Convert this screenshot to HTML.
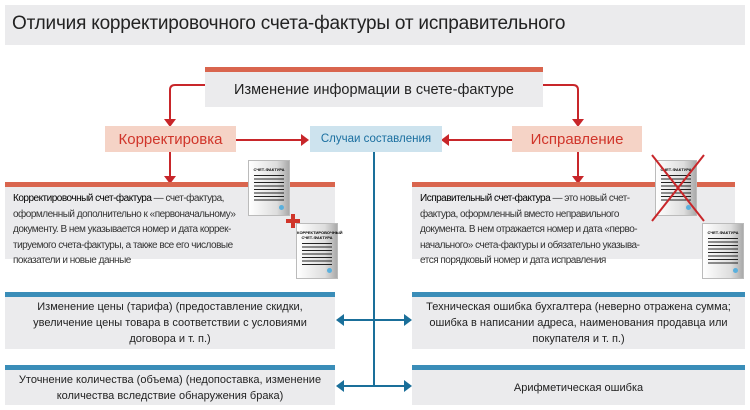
<!DOCTYPE html>
<html><head><meta charset="utf-8"><style>
body{margin:0;width:750px;height:410px;background:#fff;position:relative;overflow:hidden;font-family:"Liberation Sans","Noto Sans CJK SC",sans-serif;}
.a{position:absolute;box-sizing:border-box}
.g{background:#ebebed}
.t{display:flex;align-items:center;justify-content:center;text-align:center;color:#222}
.doc{position:absolute;width:42px;height:56px;background:linear-gradient(90deg,#fff,#ddd 70%,#aaa);border:1px solid #bbb;box-sizing:border-box}
.doc .h{font-size:4px;text-align:center;font-weight:bold;margin-top:6px;line-height:5px}
.doc .l{margin:3px 5px 0;height:28px;background:repeating-linear-gradient(#222 0 1px,transparent 1px 3.5px)}
.doc .d{position:absolute;right:5px;bottom:5px;width:5px;height:5px;border-radius:50%;background:#5ab0dd}
.desc{font-size:10px;letter-spacing:-0.5px;line-height:15.5px;padding:4px 8px;color:#333}
</style></head><body>
<div class="a g" style="left:5px;top:5px;width:740px;height:40px;font-size:19px;padding:8px 7px;color:#222;letter-spacing:-0.2px">Отличия корректировочного счета-фактуры от исправительного</div>

<div class="a g t" style="left:205px;top:67px;width:338px;height:40px;border-top:5px solid #d9654e;font-size:14.5px">Изменение информации в счете-фактуре</div>

<svg class="a" style="left:0;top:0" width="750" height="410">
<g stroke="#c8262a" stroke-width="2" fill="none">
<path d="M205 85 H175 Q170 85 170 90 V120"/>
<path d="M543 85 H573 Q578 85 578 90 V120"/>
<path d="M236 140 H302"/><path d="M512 140 H448"/>
<path d="M170 152 V178"/><path d="M578 152 V178"/>
</g>
<g fill="#c8262a">
<path d="M164 119 H176 L170 127Z"/><path d="M572 119 H584 L578 127Z"/>
<path d="M301 134 V146 L309 140Z"/><path d="M449 134 V146 L441 140Z"/>
<path d="M164 176 H176 L170 184Z"/><path d="M572 176 H584 L578 184Z"/>
</g>
<g stroke="#1a6f9a" stroke-width="2" fill="none">
<path d="M374 152 V385"/>
<path d="M342 320 H405"/><path d="M342 386 H405"/>
</g>
<g fill="#1a6f9a">
<path d="M344 314 V326 L336 320Z"/><path d="M404 314 V326 L412 320Z"/>
<path d="M344 380 V392 L336 386Z"/><path d="M404 380 V392 L412 386Z"/>
</g>
</svg>

<div class="a t" style="left:105px;top:126px;width:131px;height:26px;background:#f5d3c6;color:#d0352a;font-size:15px">Корректировка</div>
<div class="a t" style="left:310px;top:126px;width:132px;height:26px;background:#cde3ee;color:#1a6fa0;font-size:11.5px">Случаи составления</div>
<div class="a t" style="left:512px;top:126px;width:130px;height:26px;background:#f5d3c6;color:#d0352a;font-size:15px">Исправление</div>

<div class="a g desc" style="left:5px;top:182px;width:330px;height:77px;border-top:5px solid #d9654e"><span style="color:#000">Корректировочный счет-фактура</span> — счет-фактура,<br>оформленный дополнительно к «первоначальному»<br>документу. В нем указывается номер и дата коррек-<br>тируемого счета-фактуры, а также все его числовые<br>показатели и новые данные</div>
<div class="a g desc" style="left:412px;top:182px;width:323px;height:77px;border-top:5px solid #d9654e"><span style="color:#000">Исправительный счет-фактура</span> — это новый счет-<br>фактура, оформленный вместо неправильного<br>документа. В нем отражается номер и дата «перво-<br>начального» счета-фактуры и обязательно указыва-<br>ется порядковый номер и дата исправления</div>

<div class="doc" style="left:248px;top:160px"><div class="h">СЧЕТ-ФАКТУРА</div><div class="l"></div><div class="d"></div></div>
<div class="a" style="left:286px;top:219px;width:14px;height:4px;background:#d0352a"></div>
<div class="a" style="left:291px;top:214px;width:4px;height:14px;background:#d0352a"></div>
<div class="doc" style="left:296px;top:223px"><div class="h">КОРРЕКТИРОВОЧНЫЙ СЧЕТ-ФАКТУРА</div><div class="l" style="height:24px"></div><div class="d"></div></div>
<div class="doc" style="left:655px;top:160px"><div class="h">СЧЕТ-ФАКТУРА</div><div class="l"></div><div class="d"></div></div>
<svg class="a" style="left:648px;top:153px" width="60" height="70"><g stroke="#c8262a" stroke-width="2"><path d="M4 2 L56 68"/><path d="M56 2 L4 68"/></g></svg>
<div class="doc" style="left:702px;top:223px"><div class="h">СЧЕТ-ФАКТУРА</div><div class="l"></div><div class="d"></div></div>

<div class="a g t" style="left:5px;top:292px;width:330px;height:57px;border-top:5px solid #3a8db8;font-size:11px;line-height:16px">Изменение цены (тарифа) (предоставление скидки,<br>увеличение цены товара в соответствии с условиями<br>договора и т. п.)</div>
<div class="a g t" style="left:412px;top:292px;width:333px;height:57px;border-top:5px solid #3a8db8;font-size:11px;line-height:16px">Техническая ошибка бухгалтера (неверно отражена сумма;<br>ошибка в написании адреса, наименования продавца или<br>покупателя и т. п.)</div>
<div class="a g t" style="left:5px;top:365px;width:330px;height:40px;border-top:5px solid #3a8db8;font-size:11px;line-height:16px">Уточнение количества (объема) (недопоставка, изменение<br>количества вследствие обнаружения брака)</div>
<div class="a g t" style="left:412px;top:365px;width:333px;height:40px;border-top:5px solid #3a8db8;font-size:11px">Арифметическая ошибка</div>
</body></html>
